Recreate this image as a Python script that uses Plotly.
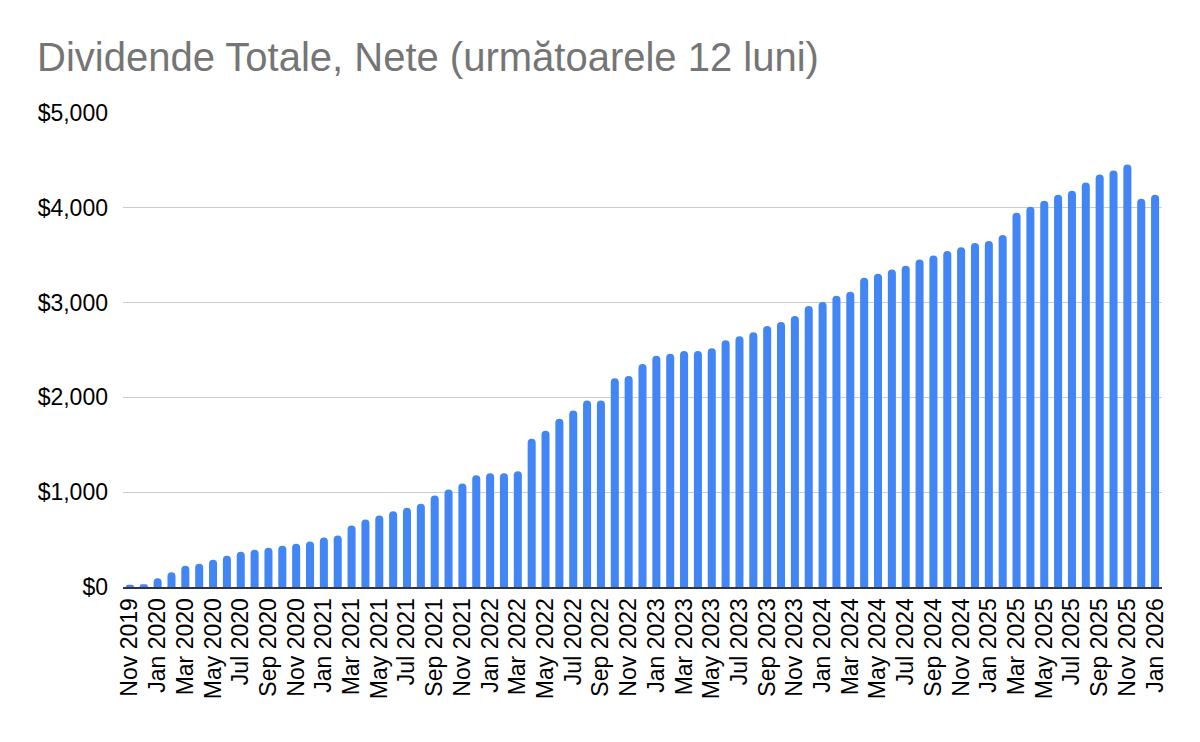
import plotly.graph_objects as go

months = [
    "Nov 2019", "Dec 2019",
    "Jan 2020", "Feb 2020", "Mar 2020", "Apr 2020", "May 2020", "Jun 2020",
    "Jul 2020", "Aug 2020", "Sep 2020", "Oct 2020", "Nov 2020", "Dec 2020",
    "Jan 2021", "Feb 2021", "Mar 2021", "Apr 2021", "May 2021", "Jun 2021",
    "Jul 2021", "Aug 2021", "Sep 2021", "Oct 2021", "Nov 2021", "Dec 2021",
    "Jan 2022", "Feb 2022", "Mar 2022", "Apr 2022", "May 2022", "Jun 2022",
    "Jul 2022", "Aug 2022", "Sep 2022", "Oct 2022", "Nov 2022", "Dec 2022",
    "Jan 2023", "Feb 2023", "Mar 2023", "Apr 2023", "May 2023", "Jun 2023",
    "Jul 2023", "Aug 2023", "Sep 2023", "Oct 2023", "Nov 2023", "Dec 2023",
    "Jan 2024", "Feb 2024", "Mar 2024", "Apr 2024", "May 2024", "Jun 2024",
    "Jul 2024", "Aug 2024", "Sep 2024", "Oct 2024", "Nov 2024", "Dec 2024",
    "Jan 2025", "Feb 2025", "Mar 2025", "Apr 2025", "May 2025", "Jun 2025",
    "Jul 2025", "Aug 2025", "Sep 2025", "Oct 2025", "Nov 2025", "Dec 2025",
    "Jan 2026",
]

dividends = [
    25, 30,
    92, 156, 223, 245, 287, 330, 372, 393, 415, 436, 457, 479,
    521, 543, 649, 713, 755, 798, 836, 879, 965, 1029, 1093, 1178,
    1200, 1200, 1221, 1563, 1648, 1776, 1862, 1968, 1968, 2203, 2225, 2353,
    2439, 2460, 2490, 2490, 2518, 2603, 2646, 2688, 2752, 2795, 2859, 2965,
    3007, 3071, 3114, 3263, 3305, 3348, 3390, 3454, 3497, 3543, 3585, 3628,
    3649, 3713, 3947, 4011, 4074, 4138, 4181, 4266, 4351, 4394, 4457, 4096,
    4138,
]

y_ticks = [0, 1000, 2000, 3000, 4000, 5000]
y_tick_labels = ["$0", "$1,000", "$2,000", "$3,000", "$4,000", "$5,000"]
x_ticks = months[::2]

title_text = "Dividende Totale, Nete (următoarele 12 luni)"

FONT = "Liberation Sans, Arial, sans-serif"

fig = go.Figure(
    go.Bar(
        x=months,
        y=dividends,
        marker=dict(color="#4285F4", cornerradius="50%", line=dict(width=0)),
        hoverinfo="x+y",
    )
)

# The page body adds an 8px offset, so the figure is sized/placed to compensate.
fig.update_layout(
    width=1192,
    height=734,
    paper_bgcolor="white",
    plot_bgcolor="white",
    margin=dict(l=115, r=38, t=105, b=155, autoexpand=False),
    bargap=0.42,
    showlegend=False,
    font=dict(family=FONT, color="#000000", size=23),
    title=dict(
        text=title_text,
        font=dict(family=FONT, size=40, color="#757575"),
        xref="container",
        yref="container",
        x=29 / 1192,
        xanchor="left",
        y=1 - 49 / 734,
        yanchor="middle",
    ),
)

fig.update_xaxes(
    type="category",
    range=[-0.5, len(months) - 0.5],
    tickmode="array",
    tickvals=x_ticks,
    ticktext=x_ticks,
    tickangle=-90,
    tickfont=dict(family=FONT, size=23, color="#000000"),
    showgrid=False,
    showline=True,
    linecolor="#333333",
    linewidth=2,
    ticks="",
)

fig.update_yaxes(
    range=[0, 5000],
    tickmode="array",
    tickvals=y_ticks,
    ticktext=y_tick_labels,
    tickfont=dict(family=FONT, size=23, color="#000000"),
    showgrid=True,
    gridcolor="#CCCCCC",
    gridwidth=1,
    zeroline=False,
    showline=False,
    ticks="",
    ticklabelstandoff=14,
)

fig.write_html("out.html")
